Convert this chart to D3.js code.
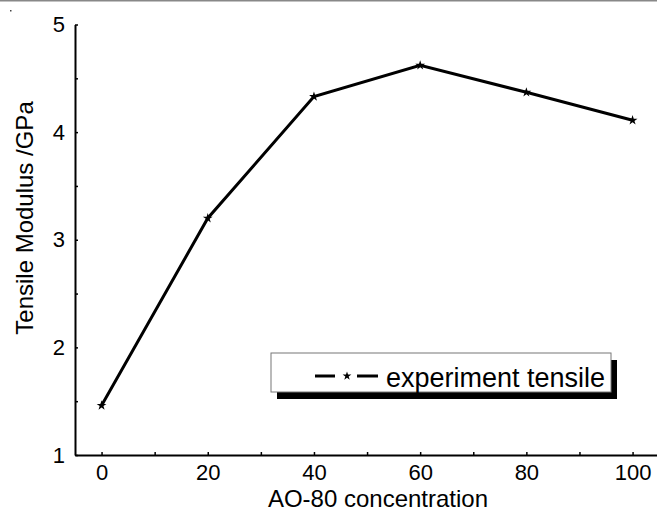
<!DOCTYPE html>
<meta charset="utf-8">
<script src="https://d3js.org/d3.v7.js"></script>
<style>
  body { margin: 0; background: #fff; }
  text { font-family: "Liberation Sans", Arial, sans-serif; fill: #000; }
</style>
<div id="my_dataviz"></div>
<script>
    // data
    var concentration = [0, 20, 40, 60, 80, 100];
    var modulus = [1.46, 3.2, 4.33, 4.62, 4.37, 4.11];
    var xTicks = [0, 20, 40, 60, 80, 100];
    var yTicks = [1, 2, 3, 4, 5];
    var seriesName = "experiment tensile";

    var W = 657, H = 513;
    var margin = {top: 24.5, right: 0, bottom: 58, left: 75},
        width = W - margin.left - margin.right,
        height = H - margin.top - margin.bottom;

    var svg = d3.select("#my_dataviz")
        .append("svg")
        .attr("width", W)
        .attr("height", H);

    // thin grey frame line at the very top + stray dot
    svg.append("line")
        .attr("x1", 0).attr("x2", W).attr("y1", 0.5).attr("y2", 0.5)
        .style("stroke", "#888").style("stroke-width", 2);
    svg.append("rect").attr("x", 10).attr("y", 10).attr("width", 1.5).attr("height", 1.5).style("fill", "#444");

    var g = svg.append("g")
        .attr("transform", "translate(" + margin.left + "," + margin.top + ")");

    var x = d3.scaleLinear()
        .domain([-5, 104.6])
        .range([0, width]);

    var y = d3.scaleLinear()
        .domain([1, 5])
        .range([height, 0]);

    // x axis: inward ticks, minor every 10
    var xAxis = g.append("g")
        .attr("transform", "translate(0," + height + ")")
        .call(d3.axisBottom(x).tickValues(d3.range(0, 101, 10)).tickSizeInner(-3).tickSizeOuter(0)
            .tickFormat(d => xTicks.includes(d) ? d : ""));
    xAxis.select(".domain").style("stroke-width", 2);
    xAxis.selectAll(".tick line").style("stroke-width", 1.5);
    xAxis.selectAll("text").attr("y", 9).style("font-size", "22px");

    var yAxis = g.append("g")
        .call(d3.axisLeft(y).tickValues(d3.range(1, 5.01, 0.5)).tickSizeInner(-3).tickSizeOuter(0)
            .tickFormat(d => yTicks.includes(d) ? d : ""));
    yAxis.select(".domain").style("stroke-width", 2);
    yAxis.selectAll(".tick line").style("stroke-width", 1.5);
    yAxis.selectAll("text").attr("x", -10).style("font-size", "22px");

    // axis titles
    svg.append("text")
        .attr("x", 378)
        .attr("y", 507)
        .attr("text-anchor", "middle")
        .style("font-size", "24px")
        .text("AO-80 concentration");

    svg.append("text")
        .attr("transform", "translate(33,218) rotate(-90)")
        .attr("text-anchor", "middle")
        .style("font-size", "24px")
        .text("Tensile Modulus /GPa");

    // the line
    var pts = concentration.map((c, i) => [c, modulus[i]]);
    g.append("path")
        .datum(pts)
        .attr("d", d3.line().x(d => x(d[0])).y(d => y(d[1])))
        .style("fill", "none")
        .style("stroke", "#000")
        .style("stroke-width", 3);

    var star = d3.symbol().type(d3.symbolStar).size(30);
    g.selectAll(".mk")
        .data(pts)
        .enter()
        .append("path")
        .attr("transform", d => "translate(" + x(d[0]) + "," + y(d[1]) + ")")
        .attr("d", star)
        .style("fill", "#000");

    // legend with drop shadow
    var lx = 271, ly = 353, lw = 340, lh = 39;
    svg.append("rect")
        .attr("x", lx + 6).attr("y", ly + 7).attr("width", lw).attr("height", lh)
        .style("fill", "#000");
    svg.append("rect")
        .attr("x", lx).attr("y", ly).attr("width", lw).attr("height", lh)
        .style("fill", "#fff").style("stroke", "#777").style("stroke-width", 1);
    svg.append("line")
        .attr("x1", 315).attr("x2", 335).attr("y1", 376).attr("y2", 376)
        .style("stroke", "#000").style("stroke-width", 3);
    svg.append("line")
        .attr("x1", 357).attr("x2", 378).attr("y1", 376).attr("y2", 376)
        .style("stroke", "#000").style("stroke-width", 3);
    svg.append("path")
        .attr("transform", "translate(347,376)")
        .attr("d", d3.symbol().type(d3.symbolStar).size(24))
        .style("fill", "#000");
    svg.append("text")
        .attr("x", 386)
        .attr("y", 387)
        .style("font-size", "27px")
        .text(seriesName);
</script>
